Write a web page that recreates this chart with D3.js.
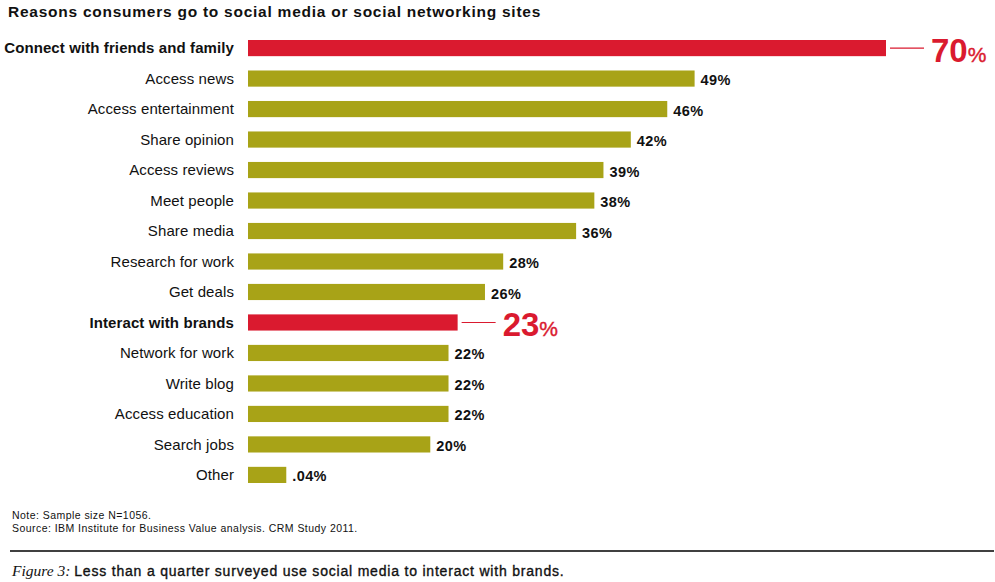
<!DOCTYPE html>
<html>
<head>
<meta charset="utf-8">
<script src="https://cdn.jsdelivr.net/npm/d3@7"></script>
<style>
  body { margin: 0; background: #fff; }
  text { font-family: "Liberation Sans", Arial, Helvetica, sans-serif; }
</style>
</head>
<body>
<svg width="995" height="582"></svg>
<script>
// chart data
const categories = [
    'Connect with friends and family', 'Access news', 'Access entertainment',
    'Share opinion', 'Access reviews', 'Meet people', 'Share media',
    'Research for work', 'Get deals', 'Interact with brands', 'Network for work',
    'Write blog', 'Access education', 'Search jobs', 'Other'
];
const values = [70, 49, 46, 42, 39, 38, 36, 28, 26, 23, 22, 22, 22, 20, 4.2];
const valueLabels = ['70', '49%', '46%', '42%', '39%', '38%', '36%', '28%', '26%',
    '23', '22%', '22%', '22%', '20%', '.04%'];
const highlighted = ['Connect with friends and family', 'Interact with brands'];

const RED = '#da1a2f';
const OLIVE = '#a8a317';

var svg = d3.select('svg');

let x = d3.scaleLinear().domain([0, 70]).range([248, 886]);
let y = d3.scaleBand().domain(categories).range([40, 483]).paddingInner(0.47).paddingOuter(0);

svg.append('text')
    .attr('x', 8).attr('y', 17)
    .attr('font-size', 15.5).attr('font-weight', 'bold')
    .attr('letter-spacing', 0.75)
    .attr('fill', '#111')
    .text('Reasons consumers go to social media or social networking sites');

let rows = svg.selectAll('g.row')
    .data(categories.map((c, i) => ({ cat: c, val: values[i], lab: valueLabels[i], hi: highlighted.includes(c) })))
    .enter().append('g').attr('class', 'row');

rows.append('rect')
    .attr('x', x(0))
    .attr('y', d => y(d.cat))
    .attr('width', d => x(d.val) - x(0))
    .attr('height', y.bandwidth())
    .attr('fill', d => d.hi ? RED : OLIVE);

rows.append('text')
    .attr('x', 234)
    .attr('y', d => y(d.cat) + y.bandwidth() / 2)
    .attr('dy', '0.35em')
    .attr('text-anchor', 'end')
    .attr('font-size', 15)
    .attr('letter-spacing', 0.1)
    .attr('font-weight', d => d.hi ? 'bold' : 'normal')
    .attr('fill', '#111')
    .text(d => d.cat);

// plain value labels
rows.filter(d => !d.hi).append('text')
    .attr('x', d => x(d.val) + 6)
    .attr('y', d => y(d.cat) + y.bandwidth() / 2)
    .attr('dy', '0.45em')
    .attr('font-size', 14.5)
    .attr('letter-spacing', 0.4)
    .attr('font-weight', 'bold')
    .attr('fill', '#111')
    .text(d => d.lab);

// highlighted callouts
let hi = rows.filter(d => d.hi);
hi.append('line')
    .attr('x1', d => x(d.val) + 4)
    .attr('x2', d => x(d.val) + 38)
    .attr('y1', d => y(d.cat) + y.bandwidth() / 2)
    .attr('y2', d => y(d.cat) + y.bandwidth() / 2)
    .attr('stroke', RED)
    .attr('stroke-width', 1.2);

let callout = hi.append('text')
    .attr('x', d => x(d.val) + 45)
    .attr('y', d => y(d.cat) + y.bandwidth() / 2 + 14)
    .attr('fill', RED)
    .attr('font-weight', 'bold');
callout.append('tspan').attr('font-size', 33).text(d => d.lab);
callout.append('tspan').attr('font-size', 21).attr('font-weight', 'normal')
    .attr('stroke', RED).attr('stroke-width', 0.4).text('%');

// notes
svg.append('text')
    .attr('x', 12).attr('y', 519)
    .attr('font-size', 10.5).attr('letter-spacing', 0.45).attr('fill', '#111')
    .text('Note: Sample size N=1056.');
svg.append('text')
    .attr('x', 12).attr('y', 532)
    .attr('font-size', 10.5).attr('letter-spacing', 0.45).attr('fill', '#111')
    .text('Source: IBM Institute for Business Value analysis. CRM Study 2011.');

svg.append('line')
    .attr('x1', 10).attr('x2', 994)
    .attr('y1', 551).attr('y2', 551)
    .attr('stroke', '#000').attr('stroke-width', 1.3);

let cap = svg.append('text')
    .attr('x', 12).attr('y', 576)
    .attr('font-size', 14).attr('fill', '#111');
cap.append('tspan')
    .attr('font-family', '"Liberation Serif", "Times New Roman", serif')
    .attr('font-style', 'italic')
    .attr('font-size', 15.5)
    .text('Figure 3: ');
cap.append('tspan')
    .attr('letter-spacing', 0.8)
    .attr('stroke', '#111').attr('stroke-width', 0.35)
    .text('Less than a quarter surveyed use social media to interact with brands.');
</script>
</body>
</html>
